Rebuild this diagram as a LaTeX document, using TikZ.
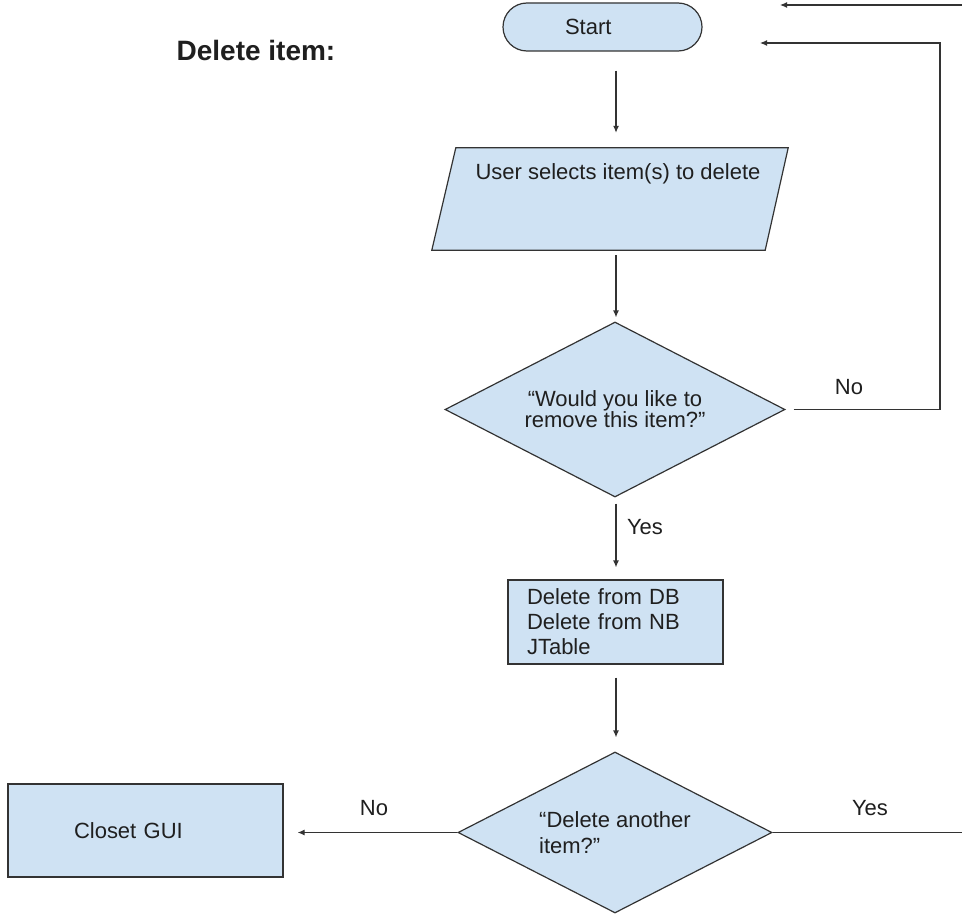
\documentclass[tikz,border=0pt]{standalone}
\usepackage{fontspec}
\setmainfont{Liberation Sans}
\usetikzlibrary{shapes.geometric,arrows.meta,backgrounds}
\definecolor{boxfill}{HTML}{CFE2F3}
\definecolor{edge}{HTML}{333333}
\definecolor{ink}{HTML}{1F1F1F}
\begin{document}
\begin{tikzpicture}[x=1pt,y=-1pt,
  every node/.style={font=\fontsize{22}{25}\selectfont, text=ink},
  box/.style={draw=edge, fill=boxfill, line width=1.2pt, inner sep=0pt},
  arr/.style={draw=edge, line width=1.2pt, -{Latex[length=7pt,width=6pt]}},
  conn/.style={draw=edge, line width=1.2pt},
  lbl/.style={inner sep=0pt}
]
\begin{scope}[on background layer]
\fill[white] (0,0) rectangle (962,915);
\end{scope}
\useasboundingbox (0,0) rectangle (962,915);

\coordinate (spine) at (616,0);

\node[lbl, font=\fontsize{28}{32}\selectfont\bfseries] (title) at (256,50) {Delete item:};

\node[box, rounded corners=24pt, minimum width=199pt, minimum height=48pt,
      inner xsep=62pt, text width=75pt, align=left] (start) at (602.5,27) {Start};

\node[minimum width=356pt, minimum height=102pt, inner sep=0pt] (sel) at (610,199) {};
\begin{scope}[on background layer]
\draw[box] ([xshift=24pt]sel.north west) -- (sel.north east)
  -- ([xshift=-23pt]sel.south east) -- (sel.south west) -- cycle;
\end{scope}
\node[lbl] (seltxt) at (618,174) {User selects item(s) to delete};

\node[box, diamond, aspect=2, minimum width=340pt, minimum height=175pt,
      align=center, font=\fontsize{22}{21}\selectfont] (d1) at (615,409.5)
      {“Would you like to\\remove this item?”};

\node[box, minimum width=215pt, minimum height=84pt, inner xsep=19pt,
      text width=177pt, align=left] (db) at (615.5,622)
      {Delete from DB\\Delete from NB\\JTable};

\node[box, diamond, aspect=2, minimum width=314pt, minimum height=161pt,
      align=left, font=\fontsize{22}{26}\selectfont] (d2) at (615,832.5)
      {“Delete another\\item?”};

\node[box, minimum width=275pt, minimum height=93pt, inner xsep=66pt,
      text width=143pt, align=left] (gui) at (145.5,830.5) {Closet GUI};

% vertical flow
\draw[arr, shorten <=19pt, shorten >=15pt] (start.south -| spine) -- (sel.north -| spine);
\draw[arr, shorten <=5pt, shorten >=4pt] (sel.south -| spine) -- (d1.north -| spine);
\draw[arr, shorten <=6pt, shorten >=12pt] (d1.south -| spine) -- (db.north -| spine);
\draw[arr, shorten <=13pt, shorten >=14pt] (db.south -| spine) -- (d2.north -| spine);

% No (bottom) to Closet GUI
\draw[arr, shorten >=14pt] (d2.west) -- (d2.west -| gui.east);

% Yes (bottom) leaving to the right
\coordinate (yesend) at (962,832.5);
\draw[conn] (d2.east) -- (yesend);

% No (top) loop back
\coordinate (loopc) at (940,43);
\coordinate (loopend) at (760,43);
\draw[arr, shorten <=8pt] (d1.east) -- (d1.east -| loopc) -- (loopc) -- (loopend);

% incoming arrow at the top
\coordinate (topin) at (962,5);
\coordinate (topend) at (780,5);
\draw[arr] (topin) -- (topend);

% labels
\node[lbl] (yes1) at (645,527) {Yes};
\node[lbl] (no1) at (849,387) {No};
\node[lbl] (no2) at (374,808) {No};
\node[lbl] (yes2) at (870,808) {Yes};
\end{tikzpicture}
\end{document}
